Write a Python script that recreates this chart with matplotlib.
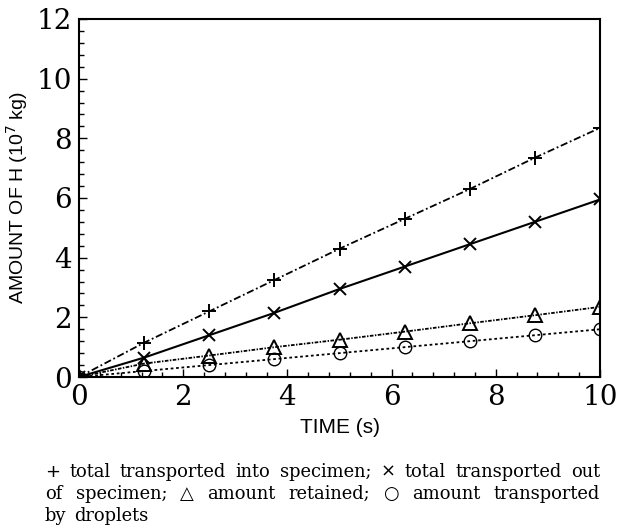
import matplotlib

matplotlib.use("Agg")

import matplotlib.pyplot as plt
from matplotlib.ticker import MultipleLocator

# time (s) at which the model values are marked
time_s = [0.0, 1.25, 2.5, 3.75, 5.0, 6.25, 7.5, 8.75, 10.0]

# amount of H (10^7 kg)
total_in = [0.0, 1.15, 2.2, 3.25, 4.3, 5.3, 6.3, 7.35, 8.35]
total_out = [0.0, 0.65, 1.4, 2.15, 2.95, 3.7, 4.45, 5.2, 5.95]
retained = [0.0, 0.45, 0.72, 1.0, 1.25, 1.52, 1.8, 2.07, 2.35]
droplets = [0.0, 0.2, 0.4, 0.6, 0.8, 1.0, 1.2, 1.4, 1.6]

caption_lines = [
    "+ total transported into specimen; \u00d7 total transported out",
    "of specimen; \u25b3 amount retained; \u25cb amount transported",
    "by droplets",
]

SERIF = ["DejaVu Serif"]
SANS = ["Liberation Sans", "DejaVu Sans"]

fig = plt.figure(figsize=(6.2, 5.32), dpi=100)
ax = fig.add_axes([79 / 620, 155 / 532, 521 / 620, 358 / 532])

ax.plot(time_s, total_in, color="black", lw=1.3, linestyle=(0, (4, 1.5, 1, 1.5)),
        marker="+", ms=10, mew=1.4)
ax.plot(time_s, total_out, color="black", lw=1.5, linestyle="-",
        marker="x", ms=9, mew=1.4)
ax.plot(time_s, retained, color="black", lw=1.3, linestyle=(0, (2, 0.8, 0.8, 0.8)),
        marker="^", ms=10, mew=1.4, mfc="none")
ax.plot(time_s, droplets, color="black", lw=1.3, linestyle=(0, (1.5, 1.5)),
        marker="o", ms=9, mew=1.0, mfc="none")

ax.set_xlim(0, 10)
ax.set_ylim(0, 12)
ax.xaxis.set_major_locator(MultipleLocator(2))
ax.xaxis.set_minor_locator(MultipleLocator(0.4))
ax.yaxis.set_major_locator(MultipleLocator(2))
ax.yaxis.set_minor_locator(MultipleLocator(0.4))
ax.tick_params(which="both", direction="in", top=False, right=False, width=1.0)
ax.tick_params(which="major", length=6)
ax.tick_params(which="minor", length=3.5)
ax.tick_params(axis="x", pad=5)
ax.tick_params(axis="y", pad=5)
for lab in ax.get_xticklabels() + ax.get_yticklabels():
    lab.set_fontfamily(SERIF)
    lab.set_fontsize(20)
for sp in ax.spines.values():
    sp.set_linewidth(1.5)

ax.set_xlabel("TIME (s)", fontsize=15, family=SANS, labelpad=5)
ax.set_ylabel(r"AMOUNT OF H (10$^7$ kg)", fontsize=14, family=SANS, labelpad=5)

# justified caption below the plot
renderer = fig.canvas.get_renderer()
x_left, x_right = 45 / 620, 600 / 620
baselines = [477, 499, 521]
symbols = {"+", "\u00d7", "\u25b3", "\u25cb"}
for i, line in enumerate(caption_lines):
    y = 1 - baselines[i] / 532
    words = line.split(" ")
    texts = [fig.text(0, y, w, fontsize=12.9, family=(["DejaVu Sans"] if w in symbols else SERIF),
                      va="baseline", ha="left")
             for w in words]
    widths = [t.get_window_extent(renderer).width / fig.bbox.width for t in texts]
    if i == len(caption_lines) - 1:
        gap = 0.012
    else:
        gap = (x_right - x_left - sum(widths)) / (len(words) - 1)
    x = x_left
    for t, w in zip(texts, widths):
        t.set_x(x)
        x += w + gap

fig.savefig("out.png", dpi=100)
